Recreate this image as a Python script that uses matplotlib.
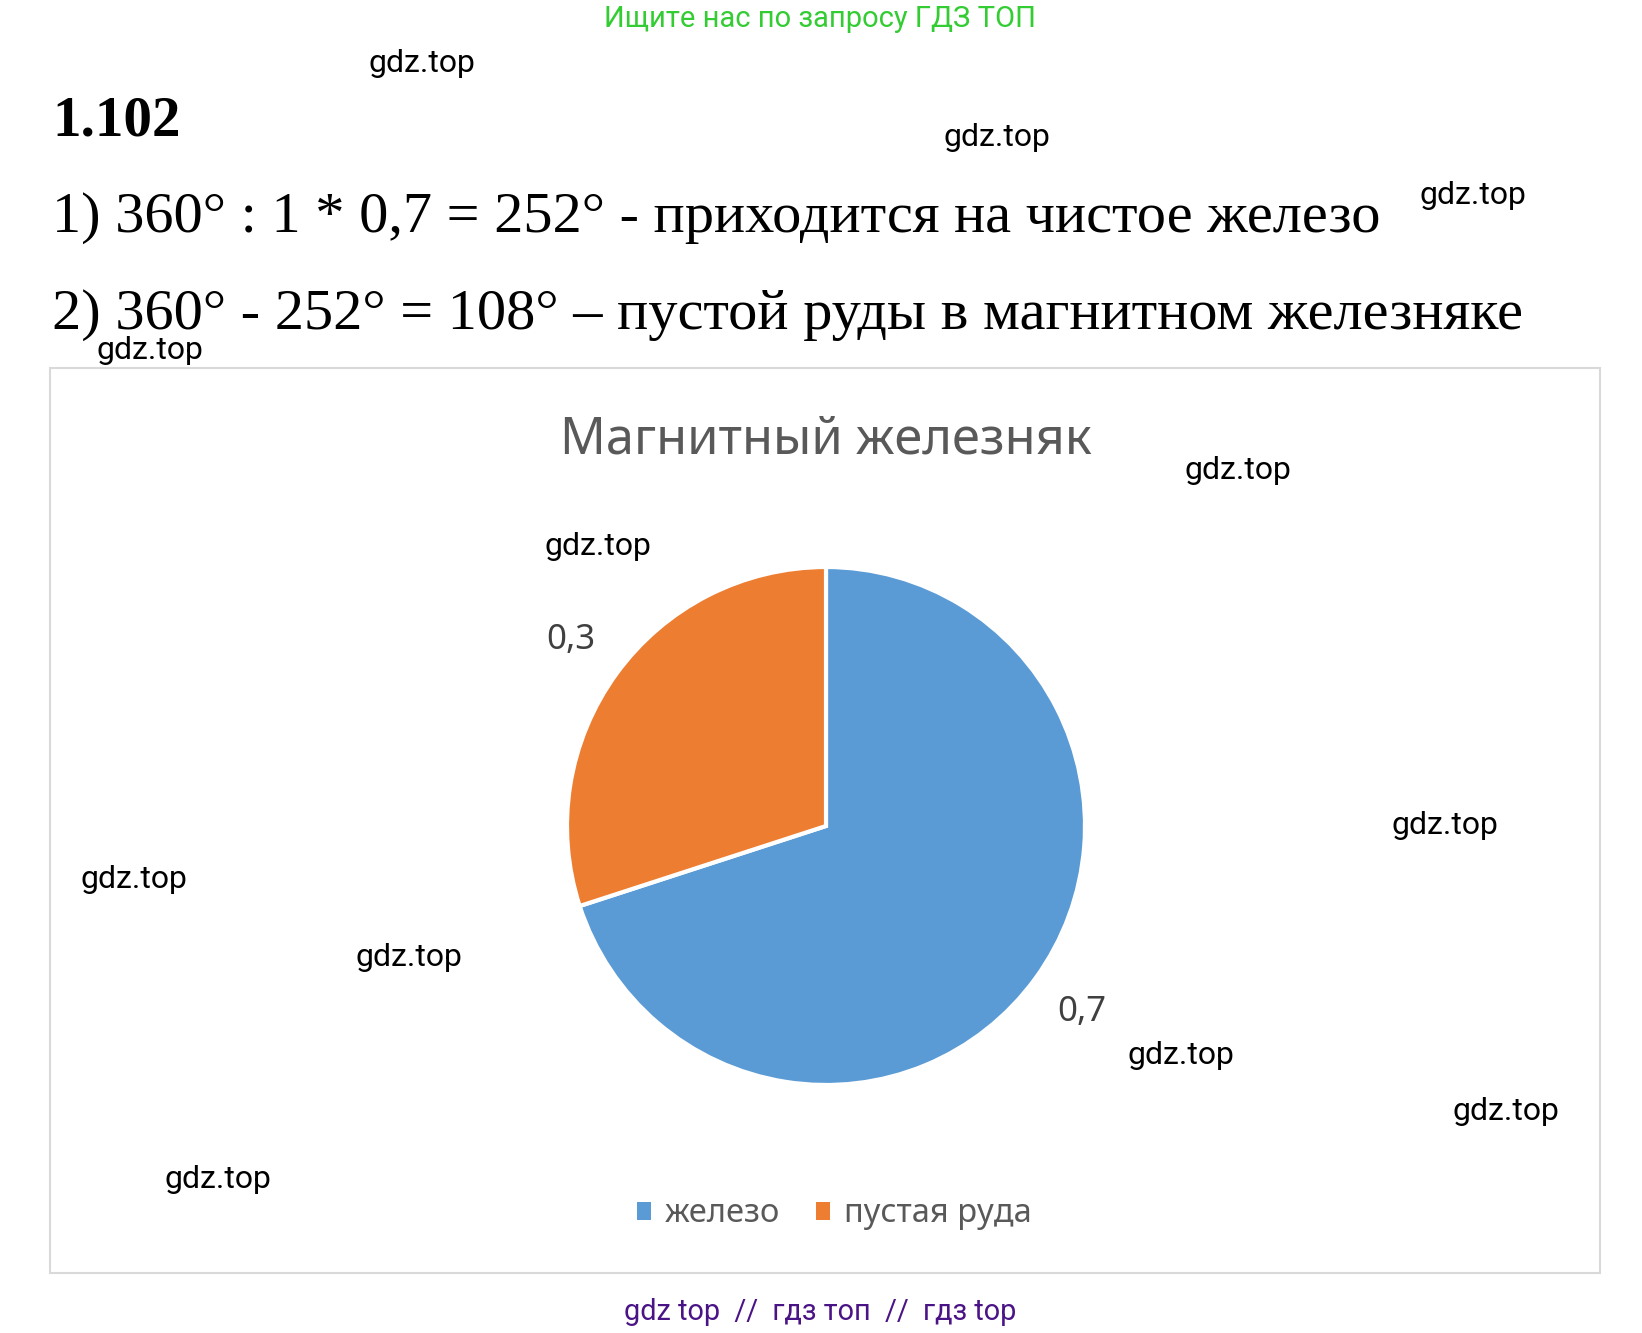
import matplotlib.pyplot as plt
from matplotlib.patches import Patch, Rectangle

W, H = 1642, 1333

# data
labels = ["железо", "пустая руда"]
values = [0.7, 0.3]
colors = ["#5B9BD5", "#ED7D31"]

header = "Ищите нас по запросу ГДЗ ТОП"
task_no = "1.102"
line1 = "1) 360° : 1 * 0,7 = 252° - приходится на чистое железо"
line2 = "2) 360° - 252° = 108° – пустой руды в магнитном железняке"
chart_title = "Магнитный железняк"
footer = "gdz top  //  гдз топ  //  гдз top"
marks = [(422, 63), (997, 138), (1473, 195), (150, 351), (1238, 471), (598, 547),
         (1445, 826), (134, 879), (409, 958), (1181, 1055), (1506, 1111), (218, 1179)]


def fx(x):
    return x / W


def fy(y):
    return 1 - y / H


fig = plt.figure(figsize=(W / 100, H / 100), dpi=100)
fig.patch.set_facecolor("white")

fig.text(fx(820), fy(27), header, color="#33CC33", fontsize=21, family="Roboto",
         ha="center", va="baseline")
fig.text(fx(52), fy(136), task_no, fontsize=41, fontweight="bold", family="Liberation Serif",
         va="baseline")
fig.text(fx(52), fy(232), line1, fontsize=42, family="Liberation Serif", va="baseline")
fig.text(fx(52), fy(329), line2, fontsize=42, family="Liberation Serif", va="baseline")

# chart frame
fig.patches.append(Rectangle((fx(50), fy(1273)), fx(1600) - fx(50), fy(368) - fy(1273),
                             transform=fig.transFigure, fill=False,
                             edgecolor="#D9D9D9", lw=1.5))

fig.text(fx(826), fy(454), chart_title, color="#595959", fontsize=36.5, family="Noto Sans",
         ha="center", va="baseline")

cx, cy, r = 826, 826, 259
ax = fig.add_axes([fx(cx - r), fy(cy + r), 2 * r / W, 2 * r / H])
wedges, _, autotexts = ax.pie(values, colors=colors, startangle=90, counterclock=False,
                              autopct=lambda p: f"{p / 100:.1f}".replace(".", ","),
                              pctdistance=1.22,
                              wedgeprops=dict(edgecolor="white", linewidth=3))
for t in autotexts:
    t.set_color("#404040")
    t.set_fontsize(25)
    t.set_family("Noto Sans")
ax.set_xlim(-1, 1)
ax.set_ylim(-1, 1)
ax.set_aspect("equal")
ax.axis("off")

handles = [Patch(facecolor=c, edgecolor="none") for c in colors]
leg = fig.legend(handles, labels, loc="center", bbox_to_anchor=(fx(834), fy(1214)), ncol=2,
                 frameon=False, prop=dict(family="Noto Sans", size=23.5),
                 handlelength=0.45, handleheight=0.45, handletextpad=0.4, columnspacing=1.1)
for t in leg.get_texts():
    t.set_color("#595959")

for x, y in marks:
    fig.text(fx(x), fy(y), "gdz.top", fontsize=23, family="Roboto", color="black",
             ha="center", va="center")

fig.text(fx(820), fy(1320), footer, color="#4B1486", fontsize=20.8, family="Roboto",
         ha="center", va="baseline")

fig.savefig("out.png", dpi=100)
